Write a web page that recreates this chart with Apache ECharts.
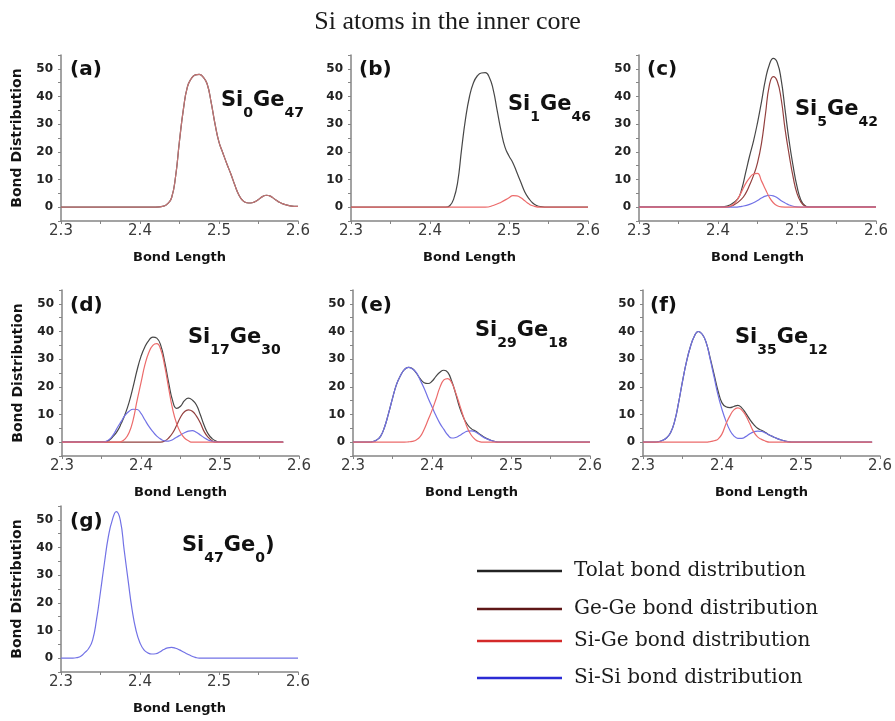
<!DOCTYPE html>
<html>
<head>
<meta charset="utf-8">
<title>Si atoms in the inner core</title>
<script src="https://cdn.jsdelivr.net/npm/echarts/dist/echarts.min.js"></script>
<style>
  html, body { margin: 0; padding: 0; background: #ffffff; }
  #chart { width: 895px; height: 721px; }
</style>
</head>
<body>
<div id="chart"></div>
<script>
// ---- axis ticks ----
const xTickLabels = [2.3, 2.4, 2.5, 2.6];
const yTickLabels = [0, 10, 20, 30, 40, 50];

// ---- bond-length distributions, [bond length (Å), count] ----
// (a) Si0Ge47 : only Ge-Ge bonds, so the total coincides with Ge-Ge
const geGeA = [[2.30,0],[2.42,0],[2.43,0.4],[2.435,1.3],[2.44,3.4],[2.445,11],[2.45,24],[2.455,35.5],[2.46,43.5],[2.465,46.5],[2.47,47.8],[2.475,48],[2.48,47],[2.485,44.5],[2.49,38],[2.495,30],[2.50,23.5],[2.505,19.5],[2.51,15.6],[2.515,12],[2.52,8],[2.525,4.5],[2.53,2.4],[2.535,1.6],[2.54,1.5],[2.545,1.9],[2.55,2.8],[2.555,3.8],[2.56,4.3],[2.565,4],[2.57,3],[2.575,2],[2.58,1.3],[2.59,0.5],[2.60,0.3]];
const totalA = geGeA;

// (b) Si1Ge46
const totalB = [[2.30,0],[2.42,0],[2.425,0.5],[2.43,3],[2.435,9],[2.44,21],[2.445,32],[2.45,40],[2.455,45],[2.46,47.5],[2.465,48.5],[2.47,48.6],[2.475,47],[2.48,42.5],[2.485,35],[2.49,27.5],[2.495,21.6],[2.50,18.5],[2.505,16],[2.51,12.5],[2.515,9],[2.52,5.5],[2.525,3.2],[2.53,1.5],[2.535,0.6],[2.54,0.2],[2.55,0],[2.60,0]];
const siGeB = [[2.30,0],[2.47,0],[2.48,0.6],[2.49,1.8],[2.50,3.4],[2.505,4.2],[2.51,4.1],[2.515,3.4],[2.52,2.3],[2.525,1.2],[2.53,0.5],[2.54,0],[2.60,0]];

// (c) Si5Ge42
const totalC = [[2.30,0],[2.40,0],[2.405,0.1],[2.415,0.8],[2.425,3],[2.43,6.5],[2.435,12.5],[2.44,18.5],[2.445,24],[2.45,30.5],[2.455,38],[2.46,46],[2.465,51.5],[2.47,53.8],[2.475,52.3],[2.48,46],[2.485,35],[2.49,24],[2.495,15],[2.50,7.5],[2.505,2.5],[2.51,0.6],[2.515,0],[2.60,0]];
const geGeC = [[2.30,0],[2.41,0],[2.42,0.8],[2.43,3],[2.435,5],[2.44,8],[2.445,11.5],[2.45,16],[2.455,23],[2.46,33.5],[2.465,44],[2.47,47.2],[2.475,45.5],[2.48,39],[2.485,28],[2.49,19],[2.495,11],[2.50,5],[2.505,1.8],[2.51,0.4],[2.515,0],[2.60,0]];
const siGeC = [[2.30,0],[2.41,0],[2.415,0.3],[2.42,1.2],[2.425,3],[2.43,5.7],[2.435,8.5],[2.44,10.6],[2.445,12],[2.45,12.2],[2.455,9.5],[2.46,6.5],[2.465,3.6],[2.47,1.6],[2.475,0.5],[2.48,0.1],[2.49,0],[2.60,0]];
const siSiC = [[2.30,0],[2.42,0],[2.43,0.3],[2.44,1],[2.45,2.4],[2.455,3.3],[2.46,4],[2.465,4.3],[2.47,4.1],[2.475,3.4],[2.48,2.3],[2.485,1.5],[2.49,0.8],[2.50,0.1],[2.51,0],[2.60,0]];

// (d) Si17Ge30
const totalD = [[2.30,0],[2.35,0],[2.355,0.1],[2.36,0.8],[2.365,2.2],[2.37,4],[2.375,6.8],[2.38,10.2],[2.385,14.5],[2.39,20],[2.395,26],[2.40,31],[2.405,34.5],[2.41,36.8],[2.415,38],[2.42,37.6],[2.425,35],[2.43,29],[2.435,21.5],[2.44,15],[2.445,12.2],[2.45,13],[2.455,15],[2.46,15.9],[2.465,15.2],[2.47,13.5],[2.475,10],[2.48,6],[2.485,3],[2.49,1.3],[2.495,0.4],[2.50,0],[2.58,0]];
const geGeD = [[2.30,0],[2.425,0],[2.43,0.4],[2.435,1.5],[2.44,3.3],[2.445,6],[2.45,9],[2.455,11],[2.46,11.7],[2.465,11.2],[2.47,9.5],[2.475,7],[2.48,3.8],[2.485,1.8],[2.49,0.5],[2.495,0],[2.58,0]];
const siGeD = [[2.30,0],[2.37,0],[2.375,0.2],[2.38,1.2],[2.385,3.5],[2.39,8],[2.395,15],[2.40,21.5],[2.405,28],[2.41,32.5],[2.415,35],[2.42,35.6],[2.425,33.5],[2.43,27.5],[2.435,19.5],[2.44,12],[2.445,6.8],[2.45,3.5],[2.455,1.5],[2.46,0.5],[2.465,0],[2.58,0]];
const siSiD = [[2.30,0],[2.35,0],[2.355,0.2],[2.36,1],[2.365,2.7],[2.37,5.2],[2.375,7.5],[2.38,9.8],[2.385,11.2],[2.39,11.9],[2.395,11.8],[2.40,10.4],[2.405,8],[2.41,5.7],[2.415,3.8],[2.42,2.2],[2.425,1.1],[2.43,0.5],[2.435,0.4],[2.44,0.9],[2.445,1.8],[2.45,2.6],[2.455,3.4],[2.46,4],[2.465,4.2],[2.47,3.6],[2.475,2.6],[2.48,1.6],[2.485,0.8],[2.49,0.3],[2.50,0],[2.58,0]];

// (e) Si29Ge18
const totalE = [[2.30,0],[2.32,0],[2.325,0.2],[2.33,0.8],[2.335,2.2],[2.34,5.5],[2.345,10.4],[2.35,15.8],[2.355,20.8],[2.36,24],[2.365,26.2],[2.37,27],[2.375,26.6],[2.38,25],[2.385,23],[2.39,21.5],[2.395,21.2],[2.40,22],[2.405,23.8],[2.41,25.3],[2.415,26],[2.42,25.2],[2.425,22],[2.43,17.5],[2.435,12.5],[2.44,8.8],[2.445,6.3],[2.45,4.8],[2.455,4],[2.46,3],[2.465,2],[2.47,1.2],[2.475,0.6],[2.48,0.2],[2.485,0],[2.60,0]];
const siGeE = [[2.30,0],[2.365,0],[2.37,0.1],[2.375,0.3],[2.38,0.8],[2.385,2],[2.39,4.6],[2.395,8],[2.40,11.5],[2.405,15.5],[2.41,19.8],[2.415,22.5],[2.42,23],[2.425,21.5],[2.43,17.8],[2.435,13.5],[2.44,9],[2.445,5],[2.45,2.4],[2.455,0.9],[2.46,0.2],[2.465,0],[2.60,0]];
const siSiE = [[2.30,0],[2.32,0],[2.325,0.2],[2.33,0.8],[2.335,2.2],[2.34,5.5],[2.345,10.4],[2.35,15.8],[2.355,20.8],[2.36,24],[2.365,26.2],[2.37,27],[2.375,26.5],[2.38,25.2],[2.385,22.5],[2.39,19.5],[2.395,16],[2.40,12.8],[2.405,9.6],[2.41,6.8],[2.415,4.6],[2.42,2.6],[2.425,1.5],[2.43,1.7],[2.435,2.4],[2.44,3.3],[2.445,4],[2.45,4.1],[2.455,3.7],[2.46,2.8],[2.465,1.8],[2.47,1.1],[2.475,0.6],[2.48,0.2],[2.485,0],[2.60,0]];

// (f) Si35Ge12
const totalF = [[2.30,0],[2.315,0],[2.32,0.2],[2.325,0.7],[2.33,1.6],[2.335,3.5],[2.34,7.5],[2.345,14.2],[2.35,22],[2.355,29],[2.36,34.5],[2.365,38.3],[2.37,40],[2.375,39],[2.38,36],[2.385,30.5],[2.39,24.5],[2.395,18.5],[2.40,14.2],[2.405,12.8],[2.41,12.5],[2.415,12.9],[2.42,13.3],[2.425,12.4],[2.43,10.5],[2.435,8.3],[2.44,6.4],[2.445,5],[2.45,4.3],[2.455,3.5],[2.46,2.6],[2.465,1.9],[2.47,1.3],[2.475,0.8],[2.48,0.4],[2.485,0.1],[2.49,0],[2.59,0]];
const siGeF = [[2.30,0],[2.38,0],[2.385,0.2],[2.39,0.5],[2.395,1.1],[2.40,3],[2.405,6.6],[2.41,9.5],[2.415,11.7],[2.42,12.4],[2.425,11.6],[2.43,9.7],[2.435,6.8],[2.44,3.8],[2.445,1.9],[2.45,1],[2.455,0.4],[2.46,0],[2.59,0]];
const siSiF = [[2.30,0],[2.315,0],[2.32,0.2],[2.325,0.7],[2.33,1.6],[2.335,3.5],[2.34,7.5],[2.345,14.2],[2.35,22],[2.355,29],[2.36,34.5],[2.365,38.3],[2.37,40],[2.375,39],[2.38,36],[2.385,30],[2.39,23.5],[2.395,17],[2.40,11.8],[2.405,7.6],[2.41,4.3],[2.415,2.3],[2.42,1.4],[2.425,1.4],[2.43,2],[2.435,3],[2.44,3.7],[2.445,4],[2.45,3.9],[2.455,3.3],[2.46,2.6],[2.465,1.9],[2.47,1.3],[2.475,0.8],[2.48,0.4],[2.485,0.1],[2.49,0],[2.59,0]];

// (g) Si47Ge0 : only Si-Si bonds
const siSiG = [[2.30,0],[2.315,0],[2.32,0.2],[2.325,0.7],[2.33,2],[2.335,3.5],[2.34,6.5],[2.345,14],[2.35,24],[2.355,34.5],[2.36,44],[2.365,50],[2.37,53],[2.375,50],[2.38,39],[2.385,28],[2.39,17.5],[2.395,10],[2.40,5.5],[2.405,3],[2.41,1.9],[2.415,1.5],[2.42,1.6],[2.425,2.2],[2.43,3.1],[2.435,3.7],[2.44,3.9],[2.445,3.6],[2.45,3],[2.455,2.2],[2.46,1.5],[2.465,0.8],[2.47,0.3],[2.475,0],[2.60,0]];

// ---- panel captions ----
const panelLetters = ['(a)', '(b)', '(c)', '(d)', '(e)', '(f)', '(g)'];
// element, count, element, count, trailing text
const panelFormulas = [
  ['Si', '0', 'Ge', '47', ''],
  ['Si', '1', 'Ge', '46', ''],
  ['Si', '5', 'Ge', '42', ''],
  ['Si', '17', 'Ge', '30', ''],
  ['Si', '29', 'Ge', '18', ''],
  ['Si', '35', 'Ge', '12', ''],
  ['Si', '47', 'Ge', '0', ')']
];
const panelCurves = [
  { total: totalA, geGe: geGeA },
  { total: totalB, siGe: siGeB },
  { total: totalC, geGe: geGeC, siSi: siSiC, siGe: siGeC },
  { total: totalD, geGe: geGeD, siSi: siSiD, siGe: siGeD },
  { total: totalE, siSi: siSiE, siGe: siGeE },
  { total: totalF, siSi: siSiF, siGe: siGeF },
  { siSi: siSiG }
];

const seriesNames = {
  total: 'Tolat bond distribution',
  geGe: 'Ge-Ge bond distribution',
  siGe: 'Si-Ge bond distribution',
  siSi: 'Si-Si bond distribution'
};

// ---- styling / layout ----
const curveColors = { total: '#474747', geGe: '#93403f', siGe: '#ec6b6b', siSi: '#7272e6' };
const legendColors = { total: '#232323', geGe: '#5e1717', siGe: '#d42a2a', siSi: '#2b2bd4' };
const drawOrder = ['total', 'geGe', 'siSi', 'siGe'];

const panelLayout = [
  { left: 61,  top: 55,  yName: true,  letter: [70, 60],   formula: [221, 90] },
  { left: 351, top: 55,  yName: false, letter: [359, 60],  formula: [508, 94] },
  { left: 639, top: 55,  yName: false, letter: [647, 60],  formula: [795, 99] },
  { left: 62,  top: 290, yName: true,  letter: [70, 296],  formula: [188, 327] },
  { left: 353, top: 290, yName: false, letter: [360, 296], formula: [475, 320] },
  { left: 643, top: 290, yName: false, letter: [650, 296], formula: [735, 327] },
  { left: 61,  top: 506, yName: true,  letter: [70, 512],  formula: [182, 535] }
];
const GRID_W = 237, GRID_H = 166;
const legendRows = [
  { key: 'total', y: 571 },
  { key: 'geGe',  y: 609 },
  { key: 'siGe',  y: 641 },
  { key: 'siSi',  y: 678 }
];

const SANS = 'DejaVu Sans';
const SERIF = 'DejaVu Serif';
const TITLE_SERIF = 'Liberation Serif';
const AXIS_GREY = '#858585';

const grids = [], xAxes = [], yAxes = [], series = [], graphics = [];

panelLayout.forEach((p, i) => {
  grids.push({ left: p.left, top: p.top, width: GRID_W, height: GRID_H });

  xAxes.push({
    type: 'value', gridIndex: i,
    min: xTickLabels[0], max: xTickLabels[xTickLabels.length - 1], interval: 0.05,
    axisLine: { onZero: false, lineStyle: { color: AXIS_GREY, width: 1.5 } },
    axisTick: { length: 3, lineStyle: { color: AXIS_GREY } },
    splitLine: { show: false },
    axisLabel: {
      margin: 3, fontFamily: SANS, fontSize: 15, color: '#3a3a3a',
      formatter: v => {
        const hit = xTickLabels.find(t => Math.abs(t - v) < 1e-6);
        return hit === undefined ? '' : hit.toFixed(1);
      }
    },
    name: 'Bond Length', nameLocation: 'middle', nameGap: 30,
    nameTextStyle: { fontFamily: SANS, fontWeight: 'bold', fontSize: 13, color: '#141414' }
  });

  yAxes.push({
    type: 'value', gridIndex: i, min: -5, max: 55, interval: 5,
    axisLine: { show: true, onZero: false, lineStyle: { color: AXIS_GREY, width: 1.5 } },
    axisTick: { show: true, length: 3, lineStyle: { color: AXIS_GREY } },
    splitLine: { show: false },
    axisLabel: {
      margin: 8, fontFamily: SANS, fontWeight: 'bold', fontSize: 12, color: '#222',
      formatter: v => (yTickLabels.indexOf(v) >= 0 ? String(v) : '')
    },
    name: p.yName ? 'Bond Distribution' : '',
    nameLocation: 'middle', nameGap: 37, nameRotate: 90,
    nameTextStyle: { fontFamily: SANS, fontWeight: 'bold', fontSize: 14, color: '#141414' }
  });

  const curves = panelCurves[i];
  drawOrder.forEach(key => {
    if (!curves[key]) return;
    // in (a) the Ge-Ge curve sits exactly on the total and reads lighter
    const color = (i === 0 && key === 'geGe') ? '#c47474' : curveColors[key];
    series.push({
      type: 'line', name: seriesNames[key],
      xAxisIndex: i, yAxisIndex: i,
      data: curves[key],
      smooth: 0.5,
      showSymbol: false, symbol: 'none',
      lineStyle: { width: 1.2, color: color },
      itemStyle: { color: color },
      emphasis: { disabled: true },
      animation: false
    });
  });

  graphics.push({
    type: 'text', left: p.letter[0], top: p.letter[1],
    style: { text: panelLetters[i], font: 'bold 20px "' + SANS + '"', fill: '#111' }
  });

  const f = panelFormulas[i];
  graphics.push({
    type: 'text', left: p.formula[0], top: p.formula[1],
    style: {
      text: '{m|' + f[0] + '}{s|' + f[1] + '}{m|' + f[2] + '}{s|' + f[3] + '}' + (f[4] ? '{m|' + f[4] + '}' : ''),
      rich: {
        m: { fontFamily: SANS, fontWeight: 'bold', fontSize: 21, lineHeight: 22, padding: [0, 0, 9, 0], verticalAlign: 'bottom', fill: '#111' },
        s: { fontFamily: SANS, fontWeight: 'bold', fontSize: 14, lineHeight: 14, verticalAlign: 'bottom', fill: '#111' }
      }
    }
  });
});

const legends = legendRows.map(r => ({
  data: [{ name: seriesNames[r.key], itemStyle: { color: legendColors[r.key] } }],
  left: 477, top: r.y - 10,
  padding: 0,
  icon: 'rect', itemWidth: 85, itemHeight: 2.5,
  selectedMode: false,
  textStyle: { fontFamily: SERIF, fontSize: 20, color: '#1c1c1c', padding: [0, 0, 0, 7] }
}));

const chart = echarts.init(document.getElementById('chart'), null, { renderer: 'canvas' });
chart.setOption({
  backgroundColor: '#ffffff',
  animation: false,
  title: {
    text: 'Si atoms in the inner core', left: 'center', top: 4,
    textStyle: { fontFamily: TITLE_SERIF, fontSize: 26, fontWeight: 'normal', color: '#1a1a1a' }
  },
  grid: grids,
  xAxis: xAxes,
  yAxis: yAxes,
  legend: legends,
  series: series,
  graphic: graphics
});
</script>
</body>
</html>
